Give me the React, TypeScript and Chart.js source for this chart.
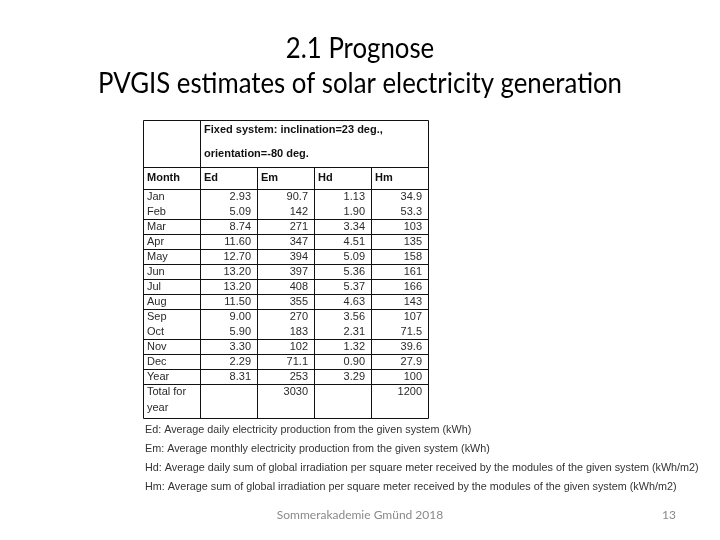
import React, { useEffect, useRef } from "react";
import { Chart, registerables } from "chart.js";

Chart.register(...registerables);

// ---------- data ----------
const titleLines = ["2.1 Prognose", "PVGIS estimates of solar electricity generation"];
const systemHeader = ["Fixed system: inclination=23 deg.,", "orientation=-80 deg."];
const columnHeaders = ["Month", "Ed", "Em", "Hd", "Hm"];
const months = ["Jan", "Feb", "Mar", "Apr", "May", "Jun", "Jul", "Aug", "Sep", "Oct", "Nov", "Dec", "Year"];
const ed = [2.93, 5.09, 8.74, 11.6, 12.7, 13.2, 13.2, 11.5, 9.0, 5.9, 3.3, 2.29, 8.31];
const em = [90.7, 142, 271, 347, 394, 397, 408, 355, 270, 183, 102, 71.1, 253];
const hd = [1.13, 1.9, 3.34, 4.51, 5.09, 5.36, 5.37, 4.63, 3.56, 2.31, 1.32, 0.9, 3.29];
const hm = [34.9, 53.3, 103, 135, 158, 161, 166, 143, 107, 71.5, 39.6, 27.9, 100];
const totalLabel = ["Total for", "year"];
const totalEm = 3030;
const totalHm = 1200;
const footnotes = [
  "Ed: Average daily electricity production from the given system (kWh)",
  "Em: Average monthly electricity production from the given system (kWh)",
  "Hd: Average daily sum of global irradiation per square meter received by the modules of the given system (kWh/m2)",
  "Hm: Average sum of global irradiation per square meter received by the modules of the given system (kWh/m2)",
];
const footerText = "Sommerakademie Gmünd 2018";
const pageNumber = "13";

// ---------- layout (row units) ----------
const HEADER_END = 3.133;
const MONTH_END = 4.6;
const DATA_END = MONTH_END + months.length;
const TABLE_END = 19.867;
const missingLines = [1, 9]; // row separators not visible in the source

const fmt2 = (v: number) => v.toFixed(2);
const fmt3 = (v: number) => v.toPrecision(3);

const TABLE_FONT = "Liberation Sans, Arial, sans-serif";
const TITLE_FONT = "Lato, sans-serif";

const tablePlugin = {
  id: "tablePlugin",
  beforeDraw(chart: any) {
    const ctx = chart.ctx as CanvasRenderingContext2D;
    ctx.save();
    ctx.fillStyle = "#ffffff";
    ctx.fillRect(0, 0, chart.width, chart.height);
    ctx.restore();
  },
  afterDraw(chart: any) {
    const ctx = chart.ctx as CanvasRenderingContext2D;
    const xs = chart.scales.x;
    const ys = chart.scales.y;
    const X = (v: number) => xs.getPixelForValue(v);
    const Y = (v: number) => ys.getPixelForValue(v);
    const snap = (p: number) => Math.round(p) + 0.5;

    ctx.save();
    // ----- grid -----
    ctx.strokeStyle = "#111";
    ctx.lineWidth = 1;
    const hline = (v: number) => {
      ctx.beginPath();
      ctx.moveTo(snap(X(0)), snap(Y(v)));
      ctx.lineTo(snap(X(5)), snap(Y(v)));
      ctx.stroke();
    };
    const vline = (c: number, from: number, to: number) => {
      ctx.beginPath();
      ctx.moveTo(snap(X(c)), snap(Y(from)));
      ctx.lineTo(snap(X(c)), snap(Y(to)));
      ctx.stroke();
    };
    hline(0);
    hline(HEADER_END);
    hline(MONTH_END);
    for (let i = 1; i <= months.length; i++) {
      if (missingLines.includes(i)) continue;
      hline(MONTH_END + i);
    }
    hline(TABLE_END);
    vline(0, 0, TABLE_END);
    vline(1, 0, TABLE_END);
    vline(5, 0, TABLE_END);
    for (let c = 2; c <= 4; c++) vline(c, HEADER_END, TABLE_END);

    // ----- header text -----
    ctx.fillStyle = "#111";
    ctx.textBaseline = "middle";
    ctx.font = `bold 11px ${TABLE_FONT}`;
    ctx.textAlign = "left";
    ctx.fillText(systemHeader[0], X(1) + 4, Y(0.67));
    ctx.fillText(systemHeader[1], X(1) + 4, Y(2.27));
    columnHeaders.forEach((h, c) => {
      ctx.fillText(h, X(c) + 4, Y((HEADER_END + MONTH_END) / 2));
    });

    // ----- body -----
    ctx.font = `11px ${TABLE_FONT}`;
    ctx.fillStyle = "#2a2a2a";
    const cols = [ed.map(fmt2), em.map(fmt3), hd.map(fmt2), hm.map(fmt3)];
    months.forEach((m, r) => {
      const yc = Y(MONTH_END + r + 0.5);
      ctx.textAlign = "left";
      ctx.fillText(m, X(0) + 4, yc);
      ctx.textAlign = "right";
      cols.forEach((col, c) => {
        ctx.fillText(col[r], X(c + 2) - 6, yc);
      });
    });
    ctx.textAlign = "left";
    ctx.fillText(totalLabel[0], X(0) + 4, Y(DATA_END + 0.53));
    ctx.fillText(totalLabel[1], X(0) + 4, Y(DATA_END + 1.6));
    ctx.textAlign = "right";
    ctx.fillText(String(totalEm), X(3) - 6, Y(DATA_END + 0.53));
    ctx.fillText(String(totalHm), X(5) - 6, Y(DATA_END + 0.53));

    // ----- footnotes -----
    ctx.textAlign = "left";
    ctx.fillStyle = "#333";
    ctx.font = `10.8px ${TABLE_FONT}`;
    footnotes.forEach((f, i) => {
      ctx.fillText(f, X(0) + 2, 430 + i * 19);
    });

    // ----- title -----
    ctx.fillStyle = "#000";
    ctx.font = `28px ${TITLE_FONT}`;
    ctx.textAlign = "center";
    const w2 = ctx.measureText(titleLines[1]).width;
    const sx = 524 / w2;
    titleLines.forEach((t, i) => {
      ctx.save();
      ctx.translate(360, i === 0 ? 49 : 84);
      ctx.scale(sx, 1);
      ctx.fillText(t, 0, 0);
      ctx.restore();
    });

    // ----- footer -----
    ctx.fillStyle = "#8a8a8a";
    ctx.font = `12px ${TITLE_FONT}`;
    ctx.textAlign = "center";
    ctx.fillText(footerText, 360, 515);
    ctx.textAlign = "right";
    ctx.fillText(pageNumber, 676, 515);
    ctx.restore();
  },
};

export default function App() {
  const ref = useRef<HTMLCanvasElement | null>(null);
  useEffect(() => {
    if (!ref.current) return;
    const chart = new Chart(ref.current, {
      type: "scatter",
      data: { datasets: [] },
      options: {
        animation: false,
        responsive: false,
        maintainAspectRatio: false,
        events: [],
        layout: { padding: { left: 143, right: 292, top: 120, bottom: 122 } },
        plugins: { legend: { display: false }, tooltip: { enabled: false }, title: { display: false } },
        scales: {
          x: { type: "linear", min: 0, max: 5, display: false },
          y: { type: "linear", min: 0, max: TABLE_END, reverse: true, display: false },
        },
      },
      plugins: [tablePlugin],
    });
    return () => chart.destroy();
  }, []);
  return (
    <div style={{ position: "fixed", left: 0, top: 0, width: 720, height: 540, background: "#fff" }}>
      <canvas ref={ref} width={720} height={540} style={{ width: 720, height: 540, display: "block" }} />
    </div>
  );
}
